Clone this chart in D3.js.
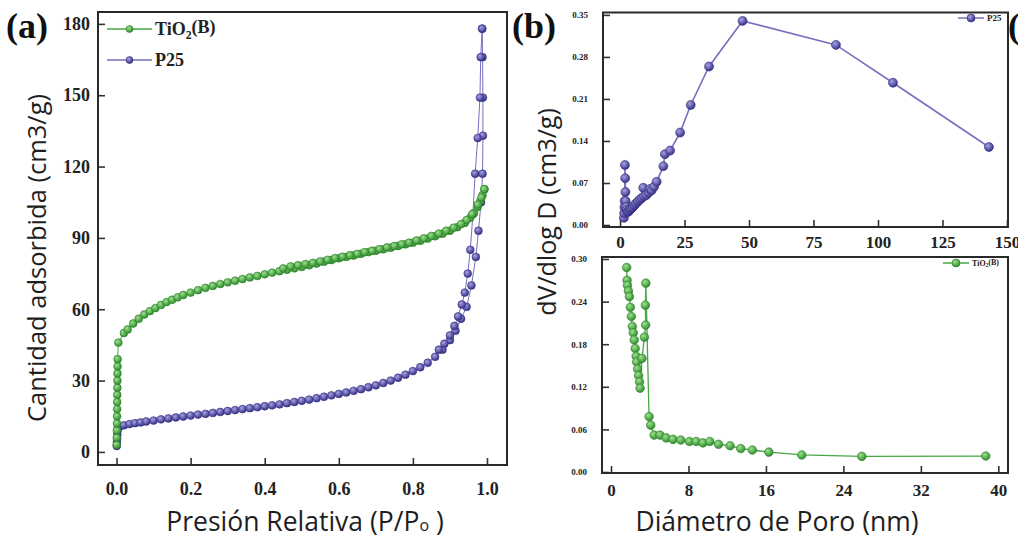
<!DOCTYPE html>
<html lang="es">
  <head>
    <meta charset="UTF-8" />
    <title>Isotermas y distribución de poro</title>
    <style type="text/css">
      body {
        margin: 0;
        background: #ffffff;
      }
      svg {
        display: block;
      }
      .tick-label {
        font-family: "Liberation Serif", "DejaVu Serif", serif;
        font-weight: bold;
        fill: #222;
      }
      .title {
        font-family: "Open Sans", Lato, sans-serif;
        fill: #1e1e1e;
      }
      .panel-tag {
        font-family: "Liberation Serif", serif;
        font-weight: bold;
        font-size: 36px;
        fill: #111;
      }
    </style>
  </head>
  <body>
    <script src="https://d3js.org/d3.v7.min.js"></script>
    <script>
      // (a) N2 isotherms: [P/P0, volume]
      var tio2Ads = [
        [0.0005, 3], [0.0008, 6], [0.001, 9], [0.0012, 12], [0.0014, 15], [0.0016, 18],
        [0.0018, 21], [0.002, 24], [0.0022, 27], [0.0024, 30], [0.0026, 33], [0.0028, 36],
        [0.003, 39], [0.005, 46], [0.02, 50], [0.03, 51.5], [0.045, 54], [0.06, 56],
        [0.075, 57.8], [0.09, 59.2], [0.105, 60.5], [0.12, 61.8], [0.135, 63], [0.15, 64],
        [0.165, 65], [0.18, 66], [0.2, 67], [0.22, 68], [0.24, 69], [0.26, 69.8],
        [0.28, 70.6], [0.3, 71.3], [0.32, 72], [0.34, 72.7], [0.36, 73.4], [0.38, 74],
        [0.4, 74.7], [0.42, 75.4], [0.44, 76], [0.46, 76.6], [0.48, 77.2], [0.5, 77.8],
        [0.52, 78.5], [0.54, 79.2], [0.56, 80], [0.58, 80.7], [0.6, 81.4], [0.62, 82],
        [0.64, 82.6], [0.66, 83.3], [0.68, 84], [0.7, 84.6], [0.72, 85.2], [0.74, 85.9],
        [0.76, 86.6], [0.78, 87.3], [0.8, 88], [0.82, 88.8], [0.84, 89.7], [0.86, 90.7],
        [0.88, 91.8], [0.9, 93], [0.92, 94.5], [0.94, 96.3], [0.955, 98.5], [0.965, 100.5],
        [0.975, 103], [0.982, 105.5], [0.988, 108], [0.993, 110.5]
      ];
      var tio2Des = [
        [0.993, 110.5], [0.985, 107], [0.975, 104], [0.96, 100], [0.945, 97.5], [0.93, 95.8],
        [0.91, 94.3], [0.89, 93], [0.87, 91.8], [0.85, 90.8], [0.83, 89.8], [0.81, 88.9],
        [0.79, 88], [0.77, 87.3], [0.75, 86.6], [0.73, 86], [0.71, 85.3], [0.69, 84.6],
        [0.67, 84], [0.65, 83.3], [0.63, 82.7], [0.61, 82.1], [0.59, 81.5], [0.57, 80.8],
        [0.55, 80.1], [0.53, 79.5], [0.51, 79], [0.49, 78.5], [0.47, 78], [0.45, 77.2]
      ];
      var p25Ads = [
        [0.0005, 2.5], [0.001, 4], [0.0015, 5.5], [0.002, 7], [0.0025, 8.5], [0.003, 9.8],
        [0.008, 10.6], [0.02, 11.2], [0.035, 11.7], [0.05, 12.1], [0.065, 12.4], [0.08, 12.8],
        [0.1, 13.2], [0.12, 13.7], [0.14, 14.1], [0.16, 14.5], [0.18, 14.9], [0.2, 15.3],
        [0.22, 15.7], [0.24, 16], [0.26, 16.4], [0.28, 16.8], [0.3, 17.2], [0.32, 17.6],
        [0.34, 18], [0.36, 18.4], [0.38, 18.8], [0.4, 19.2], [0.42, 19.6], [0.44, 20],
        [0.46, 20.5], [0.48, 21], [0.5, 21.5], [0.52, 22], [0.54, 22.6], [0.56, 23.2],
        [0.58, 23.8], [0.6, 24.4], [0.62, 25], [0.64, 25.7], [0.66, 26.4], [0.68, 27.2],
        [0.7, 28], [0.72, 29], [0.74, 30], [0.76, 31.2], [0.78, 32.5], [0.8, 34],
        [0.82, 35.6], [0.84, 37.5], [0.86, 40], [0.88, 43], [0.9, 47], [0.915, 51],
        [0.93, 56], [0.945, 61], [0.958, 70], [0.97, 82], [0.977, 93], [0.984, 105],
        [0.988, 117], [0.989, 133], [0.989, 149], [0.988, 166], [0.987, 178]
      ];
      var p25Des = [
        [0.987, 178], [0.983, 166], [0.981, 149], [0.975, 132], [0.968, 117], [0.962, 100],
        [0.955, 85], [0.948, 75], [0.94, 67], [0.932, 62], [0.922, 57], [0.912, 53],
        [0.9, 49], [0.885, 45.5], [0.87, 43]
      ];

      // (b) pore size distribution: [diameter nm, dV/dlogD]
      var p25Pores = [
        [1.5, 0.012], [1.6, 0.02], [1.7, 0.03], [1.8, 0.04], [1.9, 0.1], [2.0, 0.078],
        [2.1, 0.055], [2.2, 0.04], [2.4, 0.03], [2.6, 0.025], [2.9, 0.022], [3.2, 0.022],
        [3.6, 0.024], [4.0, 0.026], [4.5, 0.028], [5.0, 0.03], [5.6, 0.033], [6.2, 0.036],
        [6.9, 0.039], [7.6, 0.042], [8.4, 0.045], [9.0, 0.062], [9.3, 0.048], [10.2, 0.05],
        [11.1, 0.054], [11.6, 0.06], [12.3, 0.058], [13.2, 0.064], [14.2, 0.072],
        [16.8, 0.098], [17.4, 0.118], [19.4, 0.124], [23.3, 0.154], [27.4, 0.2],
        [34.5, 0.264], [47.5, 0.34], [83.7, 0.3], [105.8, 0.237], [143, 0.13]
      ];
      var tio2Pores = [
        [1.62, 0.288], [1.66, 0.27], [1.7, 0.263], [1.8, 0.255], [1.9, 0.247], [2.0, 0.232],
        [2.1, 0.219], [2.2, 0.205], [2.3, 0.196], [2.4, 0.186], [2.5, 0.174], [2.6, 0.163],
        [2.65, 0.155], [2.75, 0.145], [2.85, 0.136], [2.95, 0.127], [3.0, 0.118],
        [3.2, 0.16], [3.45, 0.19], [3.58, 0.207], [3.55, 0.235], [3.6, 0.266],
        [3.93, 0.078], [4.1, 0.066], [4.45, 0.052], [5.06, 0.052], [5.7, 0.048],
        [6.4, 0.046], [7.2, 0.045], [8.1, 0.043], [8.8, 0.043], [9.5, 0.041],
        [10.2, 0.043], [11.1, 0.039], [12.3, 0.037], [13.4, 0.033], [14.6, 0.031],
        [16.3, 0.028], [19.7, 0.024], [25.9, 0.022], [38.7, 0.0225]
      ];

      var svg = d3.select("body").append("svg").attr("width", 1018).attr("height", 540);

      var defs = svg.append("defs");
      function ball(id, light, dark) {
        var gr = defs.append("radialGradient").attr("id", id)
          .attr("cx", "38%").attr("cy", "35%").attr("r", "65%");
        gr.append("stop").attr("offset", "0%").attr("stop-color", light);
        gr.append("stop").attr("offset", "100%").attr("stop-color", dark);
      }
      ball("ballGreen", "#9ee08f", "#2f8f2c");
      ball("ballPurple", "#a7a2e2", "#38318a");

      var green = { line: "#45a843", fill: "url(#ballGreen)", edge: "#2e7f2b" };
      var purple = { line: "#7570bf", fill: "url(#ballPurple)", edge: "#36307f" };

      // draws a frame + inward ticks for one plot area
      function frame(x, y, o) {
        var g = svg.append("g");
        var x0 = x.range()[0], x1 = x.range()[1], y0 = y.range()[0], y1 = y.range()[1];

        var xa = g.append("g").attr("transform", "translate(0," + y0 + ")");
        xa.call(d3.axisBottom(x).tickValues(o.xMinor).tickSize(-4).tickFormat(""));
        xa.call(d3.axisBottom(x).tickValues(o.xMajor).tickSize(-7).tickPadding(o.xPad).tickFormat(o.xFmt));
        var ya = g.append("g").attr("transform", "translate(" + x0 + ",0)");
        ya.call(d3.axisLeft(y).tickValues(o.yMinor).tickSize(-4).tickFormat(""));
        ya.call(d3.axisLeft(y).tickValues(o.yMajor).tickSize(-7).tickPadding(o.yPad).tickFormat(o.yFmt));

        g.selectAll(".domain").remove();
        g.selectAll(".tick line").attr("stroke", "#333").attr("stroke-width", 1.6);
        xa.selectAll(".tick text").attr("class", "tick-label").style("font-size", o.xSize + "px");
        ya.selectAll(".tick text").attr("class", "tick-label").style("font-size", o.ySize + "px");

        g.append("rect")
          .attr("x", x0).attr("y", y1)
          .attr("width", x1 - x0).attr("height", y0 - y1)
          .attr("fill", "none").attr("stroke", "#2a2a2a").attr("stroke-width", 2);
      }

      function series(x, y, data, c, r, lw) {
        var line = d3.line().x(function (d) { return x(d[0]); }).y(function (d) { return y(d[1]); });
        svg.append("path").datum(data)
          .attr("d", line).attr("fill", "none")
          .attr("stroke", c.line).attr("stroke-width", lw);
        svg.append("g").selectAll("circle").data(data).join("circle")
          .attr("cx", function (d) { return x(d[0]); })
          .attr("cy", function (d) { return y(d[1]); })
          .attr("r", r)
          .attr("fill", c.fill)
          .attr("stroke", c.edge).attr("stroke-width", 0.6);
      }

      function legendRow(x, y, c, label, len, r, size, lw) {
        svg.append("line").attr("x1", x).attr("x2", x + len).attr("y1", y).attr("y2", y)
          .attr("stroke", c.line).attr("stroke-width", lw);
        svg.append("circle").attr("cx", x + len / 2).attr("cy", y).attr("r", r)
          .attr("fill", c.fill).attr("stroke", c.edge).attr("stroke-width", 0.6);
        var t = svg.append("text").attr("class", "tick-label")
          .attr("x", x + len + 3).attr("y", y + size * 0.35).style("font-size", size + "px");
        label(t);
      }
      function tio2Label(t) {
        t.append("tspan").text("TiO");
        t.append("tspan").attr("dy", "0.3em").style("font-size", "0.65em").text("2");
        t.append("tspan").attr("dy", "-0.3em").text("(B)");
      }
      function p25Label(t) { t.text("P25"); }

      // ---------- panel (a)
      var xA = d3.scaleLinear().domain([-0.05, 1.054]).range([98, 507]);
      var yA = d3.scaleLinear().domain([-5.5, 185]).range([465, 12]);
      frame(xA, yA, {
        xMajor: [0, 0.2, 0.4, 0.6, 0.8, 1.0], xMinor: [0.1, 0.3, 0.5, 0.7, 0.9],
        yMajor: [0, 30, 60, 90, 120, 150, 180], yMinor: [15, 45, 75, 105, 135, 165],
        xFmt: d3.format(".1f"), yFmt: d3.format("d"),
        xPad: 17, yPad: 8, xSize: 18, ySize: 18
      });
      series(xA, yA, p25Ads, purple, 3.9, 1);
      series(xA, yA, p25Des, purple, 3.9, 1);
      series(xA, yA, tio2Ads, green, 3.9, 1);
      series(xA, yA, tio2Des, green, 3.9, 1);
      legendRow(107, 29, green, tio2Label, 45, 3.5, 18, 1.5);
      legendRow(107, 60, purple, p25Label, 45, 3.5, 18, 1.5);

      svg.append("text").attr("class", "panel-tag").attr("x", 6).attr("y", 38).text("(a)");
      svg.append("text").attr("class", "title")
        .attr("transform", "translate(46,258) rotate(-90)")
        .attr("text-anchor", "middle").style("font-size", "25.5px")
        .text("Cantidad adsorbida (cm3/g)");
      var xt = svg.append("text").attr("class", "title")
        .attr("x", 305).attr("y", 531).attr("text-anchor", "middle").style("font-size", "26.5px");
      xt.append("tspan").text("Presión Relativa (P/P");
      xt.append("tspan").style("font-size", "16px").text("o");
      xt.append("tspan").text(" )");

      // ---------- panel (b), top: P25
      var xB1 = d3.scaleLinear().domain([-6.6, 150.4]).range([603, 1008]);
      var yB1 = d3.scaleLinear().domain([-0.0033, 0.354]).range([227, 12.5]);
      frame(xB1, yB1, {
        xMajor: [0, 25, 50, 75, 100, 125, 150], xMinor: [12.5, 37.5, 62.5, 87.5, 112.5, 137.5],
        yMajor: [0, 0.07, 0.14, 0.21, 0.28, 0.35], yMinor: [0.035, 0.105, 0.175, 0.245, 0.315],
        xFmt: d3.format("d"), yFmt: d3.format(".2f"),
        xPad: 9, yPad: 15, xSize: 17, ySize: 9
      });
      series(xB1, yB1, p25Pores, purple, 4.5, 1.6);
      legendRow(958, 18, purple, p25Label, 26, 4, 9, 1.5);

      // ---------- panel (b), bottom: TiO2(B)
      var xB2 = d3.scaleLinear().domain([-0.93, 41]).range([602, 1008]);
      var yB2 = d3.scaleLinear().domain([-0.0014, 0.3028]).range([473, 257]);
      frame(xB2, yB2, {
        xMajor: [0, 8, 16, 24, 32, 40], xMinor: [4, 12, 20, 28, 36],
        yMajor: [0, 0.06, 0.12, 0.18, 0.24, 0.30], yMinor: [0.03, 0.09, 0.15, 0.21, 0.27],
        xFmt: d3.format("d"), yFmt: d3.format(".2f"),
        xPad: 11, yPad: 15, xSize: 17, ySize: 9
      });
      series(xB2, yB2, tio2Pores, green, 4.3, 1.3);
      legendRow(943, 263, green, tio2Label, 26, 4, 8, 1.5);

      svg.append("text").attr("class", "panel-tag").attr("x", 512).attr("y", 38).text("(b)");
      svg.append("text").attr("class", "panel-tag").attr("x", 1008).attr("y", 38).text("(");
      svg.append("text").attr("class", "title")
        .attr("transform", "translate(556,212) rotate(-90)")
        .attr("text-anchor", "middle").style("font-size", "25px")
        .text("dV/dlog D (cm3/g)");
      svg.append("text").attr("class", "title")
        .attr("x", 777).attr("y", 531).attr("text-anchor", "middle").style("font-size", "26.5px")
        .text("Diámetro de Poro (nm)");
    </script>
  </body>
</html>
